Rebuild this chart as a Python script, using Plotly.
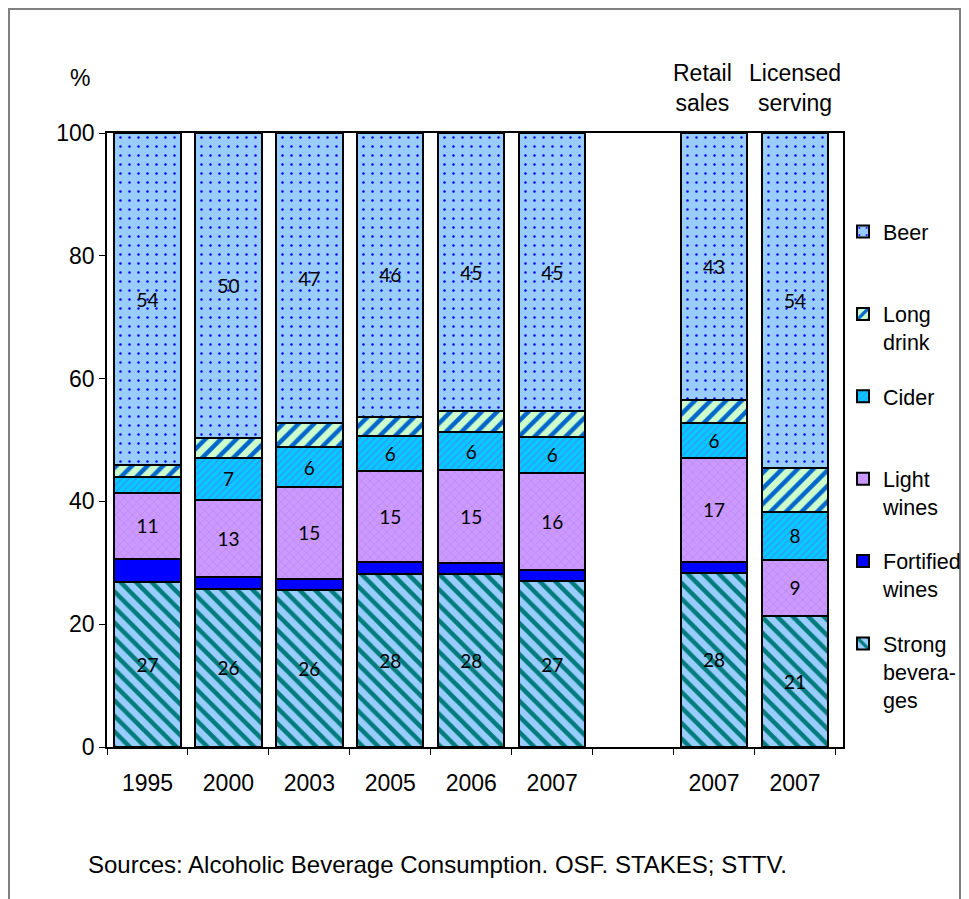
import plotly.graph_objects as go

# ---------------- data ----------------
categories = ["1995", "2000", "2003", "2005", "2006", "2007", "gap", "2007 R", "2007 L"]
tick_labels = ["1995", "2000", "2003", "2005", "2006", "2007", "", "2007", "2007"]
bar_categories = ["1995", "2000", "2003", "2005", "2006", "2007", "2007 R", "2007 L"]

strong = [26.8, 25.8, 25.6, 28.2, 28.1, 27.0, 28.4, 21.4]
fortified = [3.8, 1.9, 1.8, 2.0, 1.8, 1.9, 1.8, 0.0]
light = [10.8, 12.6, 15.0, 14.8, 15.2, 15.8, 16.9, 9.1]
cider = [2.6, 6.8, 6.4, 5.7, 6.2, 5.8, 5.7, 7.8]
long_drink = [1.9, 3.2, 3.9, 3.1, 3.4, 4.2, 3.7, 7.2]
beer = [54.1, 49.7, 47.3, 46.2, 45.3, 45.3, 43.5, 54.5]

strong_labels = ["27", "26", "26", "28", "28", "27", "28", "21"]
fortified_labels = [""] * 8
light_labels = ["11", "13", "15", "15", "15", "16", "17", "9"]
cider_labels = ["", "7", "6", "6", "6", "6", "6", "8"]
long_labels = [""] * 8
beer_labels = ["54", "50", "47", "46", "45", "45", "43", "54"]

series_names = ["Strong<br>bevera-<br>ges", "Fortified<br>wines", "Light<br>wines",
                "Cider<br> ", "Long<br>drink", "Beer<br> "]

# ---------------- styles ----------------
styles = [
    dict(color="#99CCFF", shape="\\", fg="#007C7C", size=11, solidity=0.4),
    dict(color="#0000FF", shape="", fg="#0000FF", size=8, solidity=0.3),
    dict(color="#CC99FF", shape="x", fg="#BB88F4", size=6, solidity=0.25),
    dict(color="#00CCFF", shape="/", fg="#3399FF", size=5, solidity=0.3),
    dict(color="#CCFFCC", shape="/", fg="#0066CC", size=11, solidity=0.4),
    dict(color="#99CCFF", shape=".", fg="#0000FF", size=9, solidity=0.06),
]

values = [strong, fortified, light, cider, long_drink, beer]
labels = [strong_labels, fortified_labels, light_labels, cider_labels, long_labels, beer_labels]

fig = go.Figure()
n = len(values)
for i, (name, vals, labs, st) in enumerate(zip(series_names, values, labels, styles)):
    fig.add_trace(go.Bar(
        x=bar_categories,
        y=vals,
        name=name,
        legendgroup="g%d" % i,
        legendrank=n - i,
        text=labs,
        textposition="inside",
        insidetextanchor="middle",
        textangle=0,
        textfont=dict(family="Lato", size=19, color="black"),
        marker=dict(
            color=st["color"],
            line=dict(color="black", width=2),
            pattern=dict(shape=st["shape"], fgcolor=st["fg"], size=st["size"],
                         solidity=st["solidity"], fillmode="overlay", fgopacity=1),
        ),
        hoverinfo="skip",
    ))

# page has an 8px body margin: page coords = figure coords + 8
OFF = 8
FW, FH = 969 - OFF, 899 - OFF
L, R, T, B = 107 - OFF, 843 - OFF, 133 - OFF, 747 - OFF
W, H = R - L, B - T

def px_x(p):
    return (p - OFF - L) / W

def px_y(p):
    return (B - (p - OFF)) / H

fig.update_layout(
    width=FW, height=FH,
    margin=dict(l=L, r=FW - R, t=T, b=FH - B, autoexpand=False),
    barmode="stack",
    bargap=0.18,
    plot_bgcolor="white",
    paper_bgcolor="white",
    font=dict(family="Liberation Sans", size=23, color="black"),
    showlegend=True,
    legend=dict(
        x=px_x(843), xanchor="left",
        y=px_y(211), yanchor="top",
        traceorder="grouped",
        valign="top",
        font=dict(family="Liberation Sans", size=21.5, color="black"),
        tracegroupgap=23.5,
        bgcolor="rgba(0,0,0,0)",
    ),
    xaxis=dict(
        type="category",
        categoryorder="array",
        categoryarray=categories,
        tickvals=categories,
        ticktext=tick_labels,
        tickson="boundaries",
        ticks="outside",
        ticklen=6,
        tickcolor="black",
        showline=True,
        mirror=True,
        linecolor="black",
        linewidth=1.5,
        showgrid=False,
        ticklabelstandoff=15,
        tickfont=dict(size=23),
    ),
    yaxis=dict(
        range=[0, 100],
        tickvals=[0, 20, 40, 60, 80, 100],
        ticks="outside",
        ticklen=6,
        tickcolor="black",
        showline=True,
        mirror=True,
        linecolor="black",
        linewidth=1.5,
        showgrid=False,
        zeroline=False,
        tickfont=dict(size=23),
    ),
    annotations=[
        dict(text="%", xref="paper", yref="paper", x=px_x(80), y=px_y(78),
             showarrow=False, xanchor="center", yanchor="middle", font=dict(size=23)),
        dict(text="Retail<br>sales", xref="x", yref="paper", x="2007 R", xshift=-12,
             y=px_y(88), showarrow=False, xanchor="center", yanchor="middle",
             font=dict(size=23)),
        dict(text="Licensed<br>serving", xref="x", yref="paper", x="2007 L",
             y=px_y(88), showarrow=False, xanchor="center", yanchor="middle",
             font=dict(size=23)),
        dict(text="Sources: Alcoholic Beverage Consumption. OSF. STAKES; STTV.",
             xref="paper", yref="paper", x=px_x(86), y=px_y(864),
             showarrow=False, xanchor="left", yanchor="middle", font=dict(size=24)),
    ],
    shapes=[
        dict(type="rect", xref="paper", yref="paper",
             x0=px_x(9), x1=px_x(960), y0=px_y(910), y1=px_y(9),
             line=dict(color="#808080", width=2), fillcolor="rgba(0,0,0,0)", layer="below"),
    ],
)

fig.write_html("out.html")
